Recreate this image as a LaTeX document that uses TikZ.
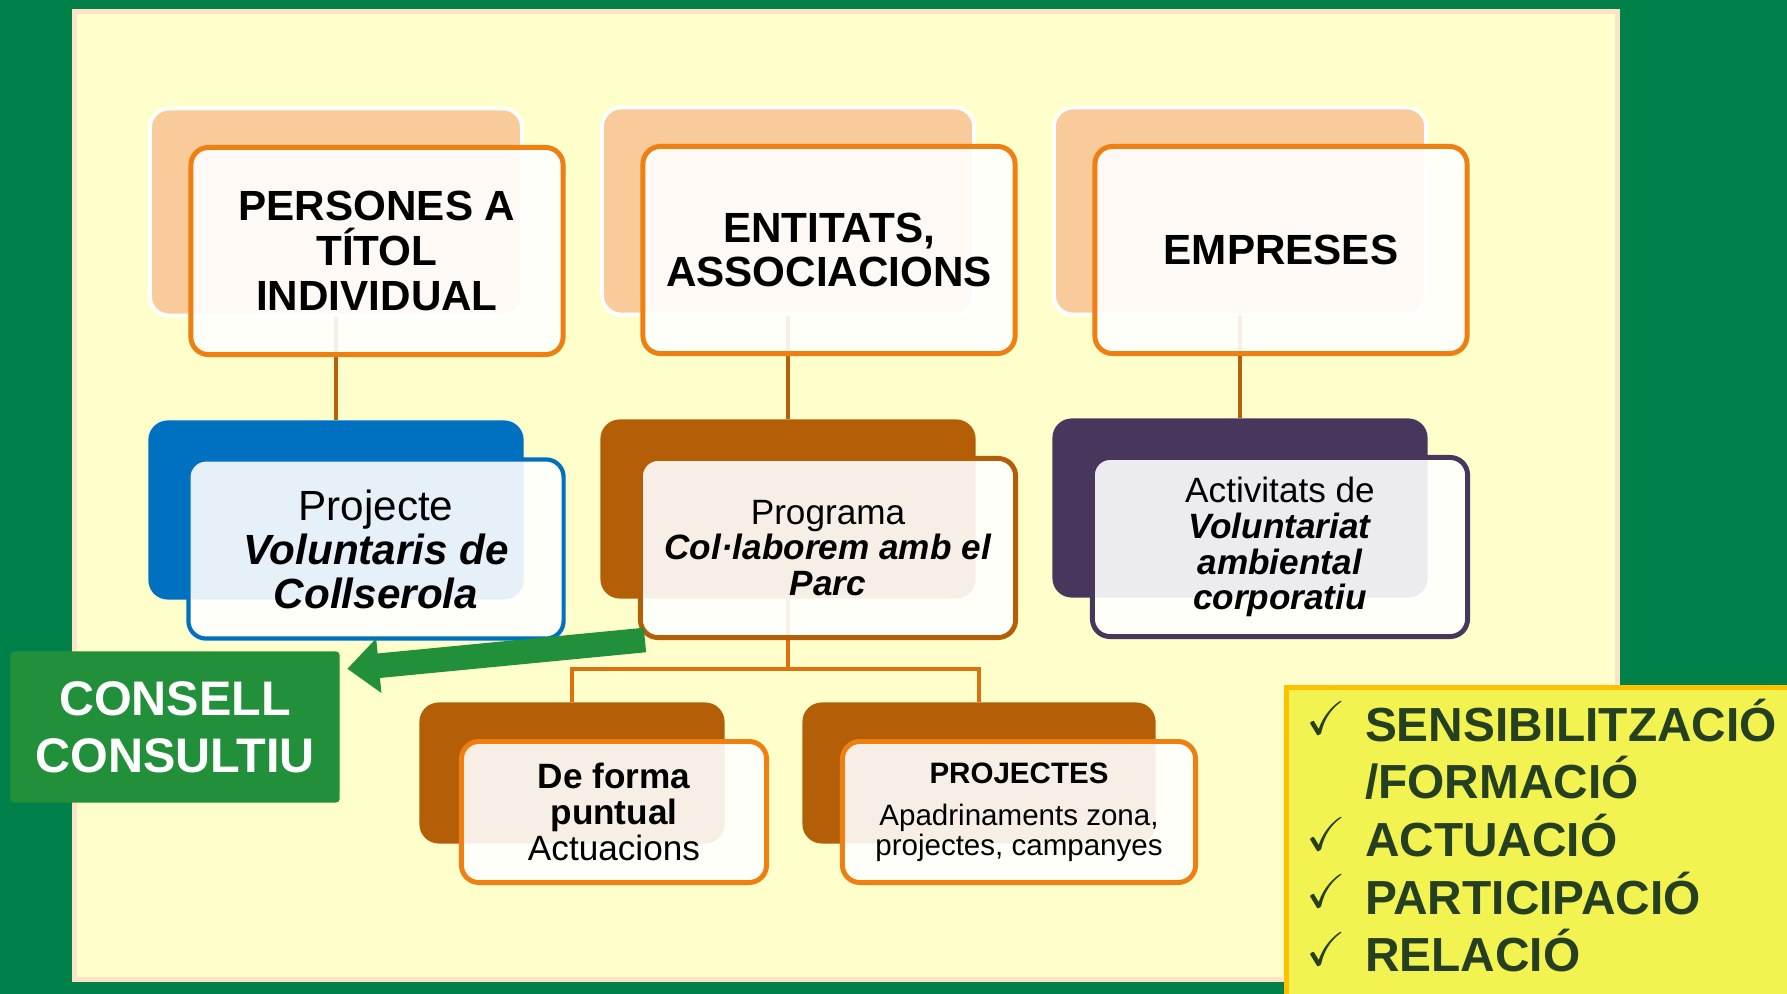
\documentclass[tikz,border=0pt]{standalone}
\usepackage{amssymb}
\usepackage{fontspec}
\setmainfont{Liberation Sans}
\usetikzlibrary{arrows.meta}
\definecolor{bggreen}{RGB}{0,129,74}
\definecolor{panel}{RGB}{255,255,204}
\definecolor{panelrim}{RGB}{253,226,200}
\definecolor{peach}{RGB}{250,203,154}
\definecolor{orangeline}{RGB}{238,127,16}
\definecolor{brownbox}{RGB}{180,95,8}
\definecolor{bluebox}{RGB}{0,112,192}
\definecolor{purplebox}{RGB}{71,55,92}
\definecolor{toplink}{RGB}{185,96,12}
\definecolor{lowlink}{RGB}{222,112,14}
\definecolor{consellgreen}{RGB}{34,144,58}
\definecolor{listyellow}{RGB}{242,242,80}
\definecolor{listrim}{RGB}{255,192,0}
\definecolor{listtext}{RGB}{37,64,33}
\newcommand{\tick}{\smash{\raisebox{1.8pt}{\fontsize{13.5}{13.5}\selectfont$\checkmark$}}}

\begin{document}
\begin{tikzpicture}[x=0.01cm, y=-0.01cm,
    back/.style={rectangle, rounded corners=5.5pt, inner sep=0pt},
    front/.style={rectangle, rounded corners=5pt, line width=1.4pt, fill=white, fill opacity=0.9, text opacity=1, align=center, inner sep=0pt},
    row1/.style={minimum width=3.72cm, minimum height=2.07cm},
    row2/.style={minimum width=3.75cm, minimum height=1.79cm},
    link/.style={line width=1.4pt}]
    \useasboundingbox (0,0) rectangle (1787,994);
    \fill[bggreen] (0,0) rectangle (1787,994);
    \draw[panelrim, fill=panel, line width=1.42pt] (74.5,11.5) rectangle (1617.5,979.5);

    \node[back, row1, fill=peach, draw=white, line width=1.1pt] (b1) at (336,212) {};
    \node[back, row1, fill=peach, draw=white, line width=1.1pt] (b2) at (788,211) {};
    \node[back, row1, fill=peach, draw=white, line width=1.1pt] (b3) at (1240,211) {};
    \node[back, row2, fill=bluebox] (b4) at (336,510) {};
    \node[back, row2, fill=brownbox] (b5) at (788,509) {};
    \node[back, row2, fill=purplebox] (b6) at (1240,508) {};
    \node[back, fill=brownbox, minimum width=3.05cm, minimum height=1.41cm] (b7) at (572,773) {};
    \node[back, fill=brownbox, minimum width=3.53cm, minimum height=1.41cm] (b8) at (979,773) {};
    \coordinate (split) at (788,669);

    \draw[link, toplink] (b1.south) -- (b4.north);
    \draw[link, toplink] (b2.south) -- (b5.north);
    \draw[link, toplink] (b3.south) -- (b6.north);
    \draw[link, lowlink] (b5.south) -- (split);
    \draw[link, lowlink] (b7.north) |- (split) -| (b8.north);

    \node[front, row1, draw=orangeline, font=\bfseries\fontsize{12}{12.7}\selectfont] (f1) at (377,251) {PERSONES A\\TÍTOL\\INDIVIDUAL};
    \node[front, row1, draw=orangeline, font=\bfseries\fontsize{12}{12.6}\selectfont] (f2) at (829,250) {ENTITATS,\\ASSOCIACIONS};
    \node[front, row1, draw=orangeline, font=\bfseries\fontsize{12}{12.6}\selectfont] (f3) at (1281,250) {EMPRESES};
    \node[front, row2, draw=bluebox, line width=1.2pt, font=\fontsize{12}{12.5}\selectfont] (f4) at (376,549) {Projecte\\\textbf{\textit{Voluntaris de}}\\\textbf{\textit{Collserola}}};
    \node[front, row2, draw=brownbox, font=\fontsize{10}{10.2}\selectfont] (f5) at (828,548) {Programa\\\textbf{\textit{Col·laborem amb el}}\\\textbf{\textit{Parc}}};
    \node[front, row2, draw=purplebox, font=\fontsize{10}{10.2}\selectfont] (f6) at (1280,547) {Activitats de\\\textbf{\textit{Voluntariat}}\\\textbf{\textit{ambiental}}\\\textbf{\textit{corporatiu}}};
    \node[front, draw=orangeline, minimum width=3.05cm, minimum height=1.41cm, font=\fontsize{10}{10.2}\selectfont] (f7) at (614,812) {\textbf{De forma}\\\textbf{puntual}\\Actuacions};
    \node[front, draw=orangeline, minimum width=3.53cm, minimum height=1.41cm, font=\fontsize{8.4}{8.4}\selectfont] (f8) at (1019,812) {\textbf{PROJECTES}\\[3.6pt]Apadrinaments zona,\\projectes, campanyes};

    \node[fill=consellgreen, rounded corners=1pt, minimum width=3.29cm, minimum height=1.51cm, text=white, align=center, font=\bfseries\fontsize{13.8}{16.2}\selectfont] (consell) at (175,727) {CONSELL\\CONSULTIU};
    \draw[consellgreen, line width=7pt, -{Triangle[length=9pt,width=15pt]}] ([xshift=0.07cm]f5.south west) -- ([shift={(0.07cm,-0.18cm)}]consell.north east);

    \node[draw=listrim, fill=listyellow, line width=1.4pt, anchor=north west, minimum width=5.2cm, minimum height=3.2cm] (listbox) at (1284,685) {};
    \node[anchor=base west, inner sep=0pt, text=listtext, font=\bfseries\fontsize{13.6}{16.4}\selectfont] (list) at (1306,741) {\begin{tabular}[t]{@{}p{16.6pt}@{}l@{}}
        \tick & \smash{SENSIBILITZACIÓ}\\
         & \smash{/FORMACIÓ}\\
        \tick & \smash{ACTUACIÓ}\\
        \tick & \smash{PARTICIPACIÓ}\\
        \tick & \smash{RELACIÓ}
    \end{tabular}};
\end{tikzpicture}
\end{document}
